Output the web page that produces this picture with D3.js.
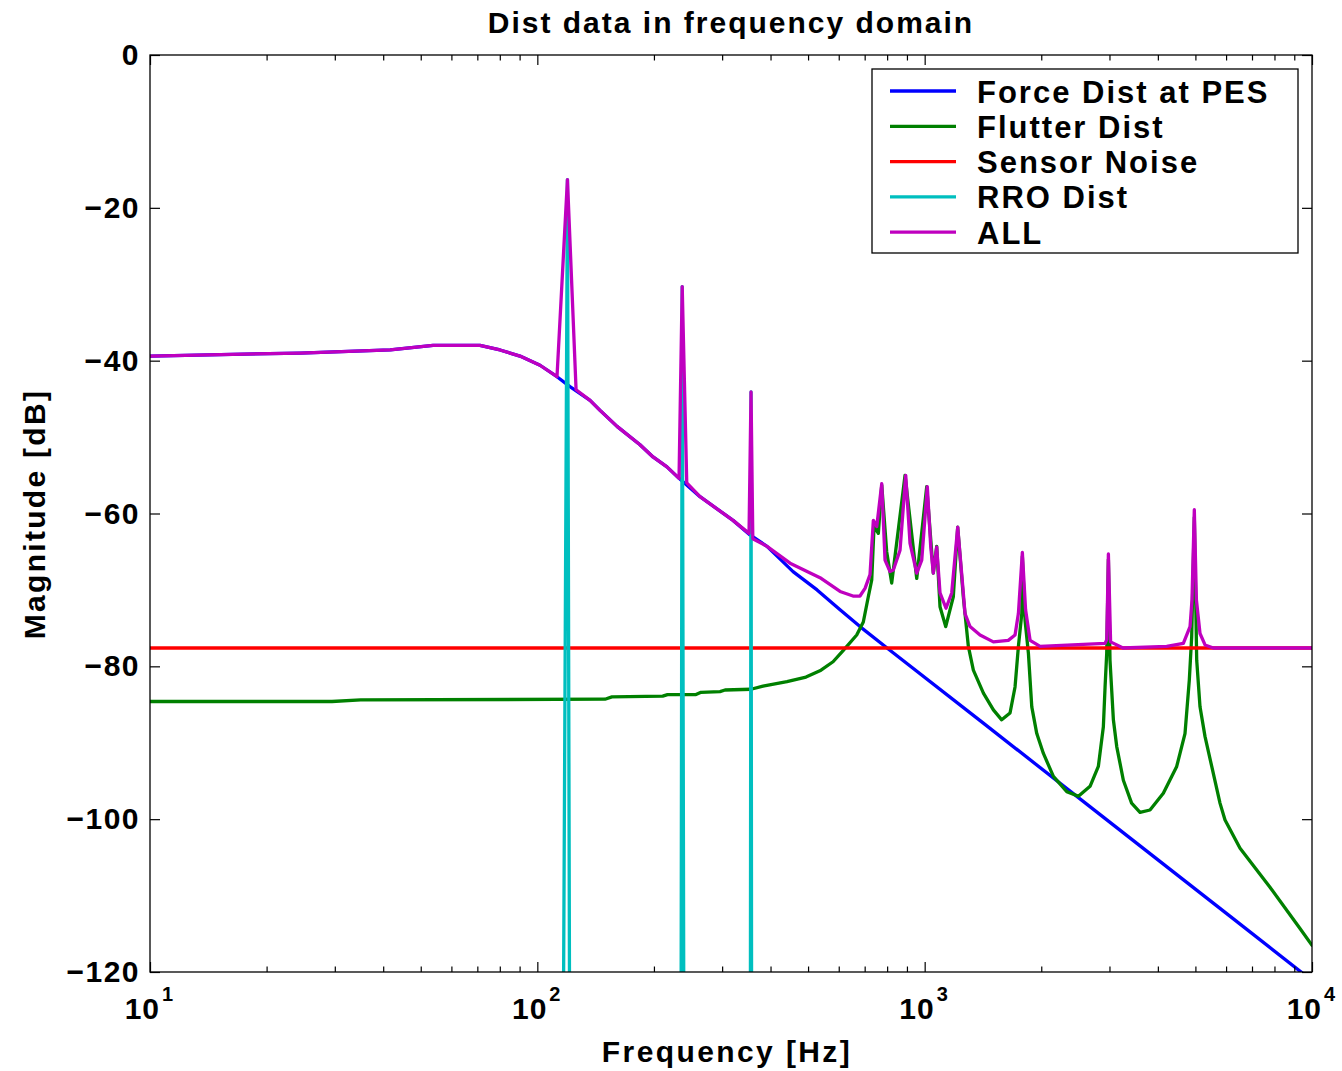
<!DOCTYPE html>
<html>
<head>
<meta charset="utf-8">
<script src="https://cdn.jsdelivr.net/npm/d3@7"></script>
<style>
  html, body { margin: 0; padding: 0; background: #fff; }
  svg { display: block; }
  text { font-family: "Liberation Sans", Arial, sans-serif; font-weight: bold; fill: #000; }
</style>
</head>
<body>
<svg id="chart" width="1342" height="1071"></svg>
<script>
// Disturbance spectra, magnitude in dB against frequency in Hz.

// Force disturbance seen at the PES
const forceFreq = [10, 24.4, 41.7, 53.8, 71.1, 80.1, 90.2, 101.6, 112.4, 121.4, 136.8, 145.2, 160.6, 184.1, 198.9, 216.1, 232.2, 263, 320.1, 354.1, 391.7, 457.3, 527.5, 604.7, 680.8, 804.2, 1414.6, 2887, 6000, 9480, 10000];
const forceDb   = [-39.4, -39.0, -38.6, -38.0, -38.0, -38.6, -39.4, -40.6, -42.1, -43.4, -45.2, -46.5, -48.6, -51.0, -52.6, -53.9, -55.4, -57.8, -60.9, -62.8, -64.3, -67.6, -70.0, -72.6, -74.8, -77.7, -87.4, -99.7, -112.3, -120.2, -121.1];

// Flutter disturbance (resonance modes)
const flutterFreq = [10, 29.5, 35.0, 149.5, 155.8, 210.7, 216.8, 256.8, 264.6, 296.2, 305.2, 356.1, 382.4, 441.1, 493.9, 540, 580, 616.6, 667.6, 694.4, 715.3, 730, 740.1, 759.3, 774.8, 797.9, 822, 889.9, 953.9, 1012.3, 1052.7, 1074.2, 1095.5, 1133.3, 1185.6, 1217, 1258.3, 1296.6, 1335.7, 1417.9, 1504.5, 1580.9, 1661.1, 1711.3, 1745.8, 1781.5, 1787.4, 1816.5, 1852.9, 1890.4, 1947.4, 2025.6, 2149.4, 2327.6, 2494, 2673, 2808, 2893, 2922.5, 2951.2, 2980.7, 3009.5, 3070.5, 3132.2, 3258, 3422, 3597.4, 3817.5, 4131.6, 4474, 4700, 4822, 4891, 4968, 5039, 5139, 5295, 5510, 5787, 5963, 6520, 7790, 9311, 10000];
const flutterDb   = [-84.6, -84.6, -84.4, -84.3, -84.0, -83.9, -83.7, -83.7, -83.4, -83.3, -83.1, -83.0, -82.6, -82.0, -81.4, -80.5, -79.4, -77.9, -75.9, -74.2, -70.9, -68.7, -61.7, -62.6, -56.3, -65.0, -69.1, -55.0, -68.5, -56.5, -67.8, -64.3, -72.2, -74.8, -70.9, -61.8, -70.9, -77.4, -80.5, -83.5, -85.7, -87.0, -86.1, -82.7, -77.4, -73.1, -65.6, -74.0, -78.3, -85.3, -88.8, -91.4, -94.4, -96.4, -97.0, -95.7, -93.1, -87.9, -82.7, -78.3, -66.0, -79.2, -87.0, -90.5, -94.9, -97.9, -99.1, -98.8, -96.6, -93.1, -88.8, -81.8, -76.1, -60.5, -79.2, -85.3, -89.2, -93.1, -97.9, -100.1, -103.8, -108.9, -114.3, -116.5];

// Sensor noise (flat)
const noiseFreq = [10, 10000];
const noiseDb   = [-77.6, -77.6];

// Repeatable run-out harmonics
const rroFreq = [112.4, 119.6, 125.9, 232.2, 236.6, 243.1, 352, 356.2, 360];
const rroDb   = [-300, -16.3, -460, -300, -30.3, -300, -300, -44.1, -300];

// Sum of all disturbances
const allFreq = [10, 24.4, 41.7, 53.8, 71.1, 80.1, 90.2, 101.6, 112.4, 119.6, 125.9, 136.8, 145.2, 160.6, 184.1, 198.9, 216.1, 232.2, 236.6, 243.1, 263, 320.1, 352, 356.2, 360, 391.7, 449.2, 536.8, 604.7, 653.1, 680.8, 701.5, 722.6, 737.1, 752.2, 774.8, 790.1, 813.8, 830, 863.8, 893.5, 916.7, 953.9, 982.7, 1015.8, 1036.5, 1052.7, 1074.2, 1095.5, 1135.3, 1174.4, 1217, 1258.3, 1270.9, 1309.4, 1389.7, 1504.5, 1644.4, 1711.3, 1745.8, 1787.4, 1822, 1871.3, 1986, 2922.5, 2952, 2980.7, 3020, 3252.4, 4216, 4654, 4843, 4900, 4968, 5030, 5139, 5295, 5563, 10000];
const allDb   = [-39.4, -39.0, -38.6, -38.0, -38.0, -38.6, -39.4, -40.6, -42.1, -16.3, -43.8, -45.2, -46.5, -48.6, -51.0, -52.6, -53.9, -55.4, -30.3, -56.0, -57.8, -60.9, -62.6, -44.1, -63.3, -64.3, -66.5, -68.4, -70.2, -70.8, -70.8, -69.8, -68.0, -60.9, -61.7, -56.1, -66.1, -67.6, -67.4, -64.8, -55.0, -63.9, -67.8, -66.1, -56.5, -64.3, -67.8, -64.4, -70.4, -72.4, -70.4, -61.8, -70.4, -73.1, -74.8, -75.9, -76.8, -76.6, -75.9, -73.1, -65.1, -72.6, -76.6, -77.4, -77.0, -76.5, -65.3, -76.8, -77.6, -77.4, -77.0, -74.8, -71.3, -59.5, -71.3, -75.7, -77.2, -77.6, -77.6];

// Axis ticks
const yTicks = [0, -20, -40, -60, -80, -100, -120];
const xMajorTicks = [10, 100, 1000, 10000];
const xExponents = ["1", "2", "3", "4"];
const xMinorMultipliers = [2, 3, 4, 5, 6, 7, 8, 9];

const seriesNames = ["Force Dist at PES", "Flutter Dist", "Sensor Noise", "RRO Dist", "ALL"];
const seriesColors = ["#0000ff", "#008000", "#ff0000", "#00bfbf", "#bf00bf"];

const titleText = "Dist data in frequency domain";
const xLabelText = "Frequency [Hz]";
const yLabelText = "Magnitude [dB]";

// ---- layout ----
const plot = { left: 150, right: 1312, top: 55, bottom: 972 };

const svg = d3.select("#chart");

const x = d3.scaleLog().domain([10, 10000]).range([plot.left, plot.right]);
const y = d3.scaleLinear().domain([-120, 0]).range([plot.bottom, plot.top]);

const zip = (fs, ds) => fs.map((f, i) => ({ f, db: ds[i] }));
const series = [
  zip(forceFreq, forceDb),
  zip(flutterFreq, flutterDb),
  zip(noiseFreq, noiseDb),
  zip(rroFreq, rroDb),
  zip(allFreq, allDb)
];

svg.append("defs").append("clipPath").attr("id", "plotClip")
  .append("rect")
  .attr("x", plot.left).attr("y", plot.top)
  .attr("width", plot.right - plot.left).attr("height", plot.bottom - plot.top);

// ---- data lines ----
const line = d3.line().x(d => x(d.f)).y(d => y(d.db));
const lines = svg.append("g").attr("clip-path", "url(#plotClip)");
series.forEach((s, i) => {
  lines.append("path")
    .datum(s)
    .attr("d", line)
    .attr("fill", "none")
    .attr("stroke", seriesColors[i])
    .attr("stroke-width", 3.3)
    .attr("stroke-linejoin", "round")
    .attr("stroke-linecap", "round");
});

// ---- axes (ticks pointing inward, boxed) ----
const minorTicks = [];
[10, 100, 1000].forEach(dec => xMinorMultipliers.forEach(m => minorTicks.push(dec * m)));

function styleAxis(g) {
  g.select(".domain").remove();
  g.selectAll(".tick line").attr("stroke", "#000").attr("stroke-width", 1.2);
}

svg.append("g").attr("transform", `translate(0,${plot.bottom})`)
  .call(d3.axisBottom(x).tickValues(xMajorTicks).tickSize(-10).tickFormat(""))
  .call(styleAxis);
svg.append("g").attr("transform", `translate(0,${plot.bottom})`)
  .call(d3.axisBottom(x).tickValues(minorTicks).tickSize(-5.5).tickFormat(""))
  .call(styleAxis);
svg.append("g").attr("transform", `translate(0,${plot.top})`)
  .call(d3.axisTop(x).tickValues(xMajorTicks).tickSize(-10).tickFormat(""))
  .call(styleAxis);
svg.append("g").attr("transform", `translate(0,${plot.top})`)
  .call(d3.axisTop(x).tickValues(minorTicks).tickSize(-5.5).tickFormat(""))
  .call(styleAxis);

const yAxisLeft = svg.append("g").attr("transform", `translate(${plot.left},0)`)
  .call(d3.axisLeft(y).tickValues(yTicks).tickSize(-10).tickPadding(10).tickFormat(d3.format("d")))
  .call(styleAxis);
yAxisLeft.selectAll(".tick text")
  .attr("font-family", "Liberation Sans, Arial, sans-serif")
  .attr("font-weight", "bold")
  .attr("font-size", 30)
  .attr("letter-spacing", 1.5)
  .attr("fill", "#000");

svg.append("g").attr("transform", `translate(${plot.right},0)`)
  .call(d3.axisRight(y).tickValues(yTicks).tickSize(-10).tickFormat(""))
  .call(styleAxis);

// plot box
svg.append("rect")
  .attr("x", plot.left).attr("y", plot.top)
  .attr("width", plot.right - plot.left).attr("height", plot.bottom - plot.top)
  .attr("fill", "none").attr("stroke", "#000").attr("stroke-width", 1.3);

// x tick labels as powers of ten
const xLabels = svg.append("g");
xMajorTicks.forEach((v, i) => {
  xLabels.append("text")
    .attr("x", x(v) + 10).attr("y", 1019)
    .attr("text-anchor", "end")
    .attr("font-size", 30)
    .attr("letter-spacing", 1)
    .text("10");
  xLabels.append("text")
    .attr("x", x(v) + 12).attr("y", 1001)
    .attr("text-anchor", "start")
    .attr("font-size", 20)
    .text(xExponents[i]);
});

// ---- title and axis labels ----
svg.append("text")
  .attr("x", (plot.left + plot.right) / 2).attr("y", 33)
  .attr("text-anchor", "middle")
  .attr("font-size", 30)
  .attr("letter-spacing", 2)
  .text(titleText);

svg.append("text")
  .attr("x", 727).attr("y", 1062)
  .attr("text-anchor", "middle")
  .attr("font-size", 30)
  .attr("letter-spacing", 2.4)
  .text(xLabelText);

svg.append("text")
  .attr("transform", "translate(45,514) rotate(-90)")
  .attr("text-anchor", "middle")
  .attr("font-size", 30)
  .attr("letter-spacing", 2.3)
  .text(yLabelText);

// ---- legend ----
const legend = svg.append("g");
legend.append("rect")
  .attr("x", 872).attr("y", 69).attr("width", 426).attr("height", 184)
  .attr("fill", "#fff").attr("stroke", "#000").attr("stroke-width", 1.3);
seriesNames.forEach((name, i) => {
  const ry = 91 + i * 35.3;
  legend.append("line")
    .attr("x1", 890).attr("x2", 956).attr("y1", ry).attr("y2", ry)
    .attr("stroke", seriesColors[i]).attr("stroke-width", 3.3);
  legend.append("text")
    .attr("x", 977).attr("y", ry + 11.5)
    .attr("font-size", 31)
    .attr("letter-spacing", 2)
    .text(name);
});
</script>
</body>
</html>
